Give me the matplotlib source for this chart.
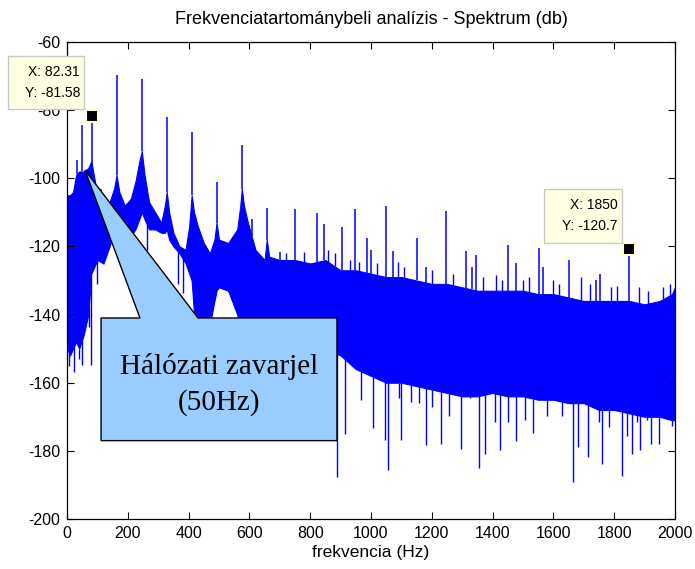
import matplotlib
matplotlib.use("Agg")
import matplotlib.pyplot as plt
from matplotlib.patches import Polygon, Rectangle
import numpy as np

plt.rcParams['axes.unicode_minus'] = False

# Spectrum band: upper and lower edge of the dense noise floor (dB) at given frequencies (Hz)
env_freq = [0, 10, 20, 30, 40, 55, 70, 80, 90, 100, 120, 140, 155, 163, 172, 190, 210,
            225, 238, 246, 255, 270, 290, 310, 322, 328, 336, 350, 370, 390, 402, 410,
            418, 430, 450, 470, 485, 492, 500, 530, 560, 570, 575, 582, 595, 620, 650,
            657, 665, 700, 750, 800, 850, 900, 950, 1000, 1050, 1100, 1150, 1200, 1250,
            1300, 1350, 1400, 1450, 1500, 1550, 1600, 1650, 1700, 1750, 1800, 1850, 1900,
            1950, 1990, 2000]
env_high = [-105, -105, -104, -99, -98, -98, -97, -95, -100, -105, -107, -107, -103, -99,
            -104, -108, -106, -101, -95, -92, -99, -107, -110, -113, -108, -104, -110,
            -116, -120, -121, -114, -105, -110, -114, -119, -122, -118, -113, -118, -119,
            -115, -108, -103, -108, -113, -121, -124, -118, -123, -124, -124, -125, -124,
            -127, -127, -128, -129, -129, -130, -131, -131, -132, -133, -133, -133, -133,
            -134, -134, -135, -136, -136, -136, -136, -137, -136, -134, -132]
env_low = [-150, -152, -150, -148, -150, -146, -140, -128, -126, -124, -125, -120, -116,
           -113, -116, -118, -117, -115, -112, -110, -112, -115, -115, -116, -116, -115,
           -118, -120, -122, -125, -128, -130, -140, -144, -146, -143, -136, -133, -132,
           -133, -140, -145, -146, -146, -147, -148, -150, -150, -150, -151, -151, -151,
           -150, -152, -156, -158, -160, -160, -161, -162, -163, -164, -164, -163, -164,
           -164, -165, -165, -166, -166, -168, -168, -169, -170, -170, -171, -171]

# Spectral lines (harmonics and other narrow peaks)
peak_freq = [34, 48, 82.31, 112, 163, 246, 328, 410, 492, 575, 607, 657, 700, 750, 823,
             845, 906, 947, 988, 999, 1048, 1071, 1150, 1181, 1246, 1312, 1331, 1347,
             1452, 1477, 1553, 1566, 1651, 1740, 1754, 1850]
peak_db = [-94.5, -84.4, -81.58, -103, -69.7, -71.0, -82.1, -86.5, -101, -90.2, -112,
           -108.7, -121.6, -109, -110.3, -113.4, -114.4, -109.1, -117.5, -121, -108.2,
           -121.2, -117.5, -126, -109.7, -121.2, -126, -122.6, -119.5, -124.8, -120.5,
           -126, -124, -130, -128, -120.7]

# Small bumps on the top edge of the noise floor
bump_freq = [720, 780, 860, 880, 930, 960, 1020, 1090, 1110, 1200, 1270, 1370, 1410, 1430,
             1500, 1520, 1600, 1620, 1690, 1720, 1790, 1810, 1880, 1910, 1960, 1985]
bump_db = [-122, -121.5, -121, -122, -124, -124.5, -125, -124.5, -126, -127, -128, -129,
           -128.5, -130, -130, -129, -130, -131, -129, -131, -132, -131.5, -132, -133,
           -132, -131]

# Deep notches below the noise floor
dip_freq = [5, 22, 40, 48, 72, 79, 98, 262, 365, 380, 887, 914, 966, 1005, 1046, 1057,
            1093, 1100, 1132, 1158, 1181, 1202, 1230, 1256, 1296, 1326, 1355, 1375, 1408,
            1424, 1452, 1476, 1507, 1533, 1578, 1627, 1663, 1682, 1713, 1749, 1759, 1782,
            1825, 1842, 1858, 1875, 1885, 1908, 1921, 1935, 1948, 1974, 1990]
dip_db = [-155, -157, -153, -154.8, -143.6, -154.8, -131, -121, -131, -133.7, -187.6,
          -175, -165, -173.3, -176.8, -185.6, -164.6, -176.8, -165.6, -166, -178.4, -167,
          -178, -169.8, -179.5, -164.6, -185, -181, -171.6, -179.7, -171.6, -177, -170.8,
          -174.8, -169.8, -169.8, -189, -179, -181.7, -171.6, -184, -173, -187.4, -175.5,
          -181, -171.6, -179.7, -170.8, -178, -169.8, -178, -165.6, -172.6]

# Data tips
tips = [(82.31, -81.58), (1850, -120.7)]

W, H = 695, 569
fig = plt.figure(figsize=(W / 100, H / 100), dpi=100)
ax = fig.add_axes([67 / W, 1 - 519 / H, 608 / W, 477 / H])

blue = '#0000ff'
ax.fill_between(env_freq, env_low, env_high, color=blue, lw=0.8, edgecolor=blue)

top = np.interp(peak_freq, env_freq, env_high)
ax.vlines(peak_freq, top, peak_db, color=blue, lw=1.1)
top = np.interp(bump_freq, env_freq, env_high)
ax.vlines(bump_freq, top, bump_db, color=blue, lw=1.0)
bot = np.interp(dip_freq, env_freq, env_low)
ax.vlines(dip_freq, bot, dip_db, color=blue, lw=1.0)

ax.set_xlim(0, 2000)
ax.set_ylim(-200, -60)
ax.set_xticks(np.arange(0, 2001, 200))
ax.set_yticks(np.arange(-200, -59, 20))
ax.tick_params(direction='in', length=5, top=True, right=True, labelsize=11.5,
               pad=5, width=0.8)
for lab in ax.get_xticklabels() + ax.get_yticklabels():
    lab.set_family('Liberation Sans')
for s in ax.spines.values():
    s.set_linewidth(0.9)

fig.text(371 / W, 1 - 19 / H, 'Frekvenciatartománybeli analízis - Spektrum (db)',
         ha='center', va='center', fontsize=13, family='Liberation Sans')
fig.text(371 / W, 1 - 553 / H, 'frekvencia (Hz)', ha='center', va='center',
         fontsize=12.5, family='Liberation Sans')

# callout pointing at the mains interference line
callout = [(112, -141), (240, -141), (59, -97.6), (431, -141), (888, -141),
           (888, -177), (112, -177)]
ax.add_patch(Polygon(callout, closed=True, facecolor='#99ccff', edgecolor='black',
                     lw=1.0, zorder=5, clip_on=False))
ax.text(500, -160.5, 'Hálózati zavarjel\n(50Hz)', ha='center', va='center', fontsize=21,
        family='Liberation Serif', linespacing=1.45, zorder=6)

# data tip boxes (pixel positions) and markers
tip_boxes = [(8, 56, 84, 109), (544, 189, 622, 243)]
for (fx, fy), (x0, y0, x1, y1) in zip(tips, tip_boxes):
    fig.patches.append(Rectangle((x0 / W, 1 - y1 / H), (x1 - x0) / W, (y1 - y0) / H,
                                 transform=fig.transFigure, facecolor='#ffffe1',
                                 edgecolor='#c8c8c8', lw=1.0, zorder=10))
    xs = f'{fx:g}'
    fig.text((x1 - 4) / W, 1 - (y0 + 16) / H, f'X: {xs}', ha='right', va='center',
             fontsize=10, family='Liberation Sans', zorder=11)
    fig.text((x1 - 4) / W, 1 - (y0 + 37) / H, f'Y: {fy:g}', ha='right', va='center',
             fontsize=10, family='Liberation Sans', zorder=11)
    ax.plot([fx], [fy], marker='s', ms=8, mfc='black', mec='#ffffd0', mew=1.5,
            zorder=12, clip_on=False)

fig.savefig('out.png', dpi=100)
